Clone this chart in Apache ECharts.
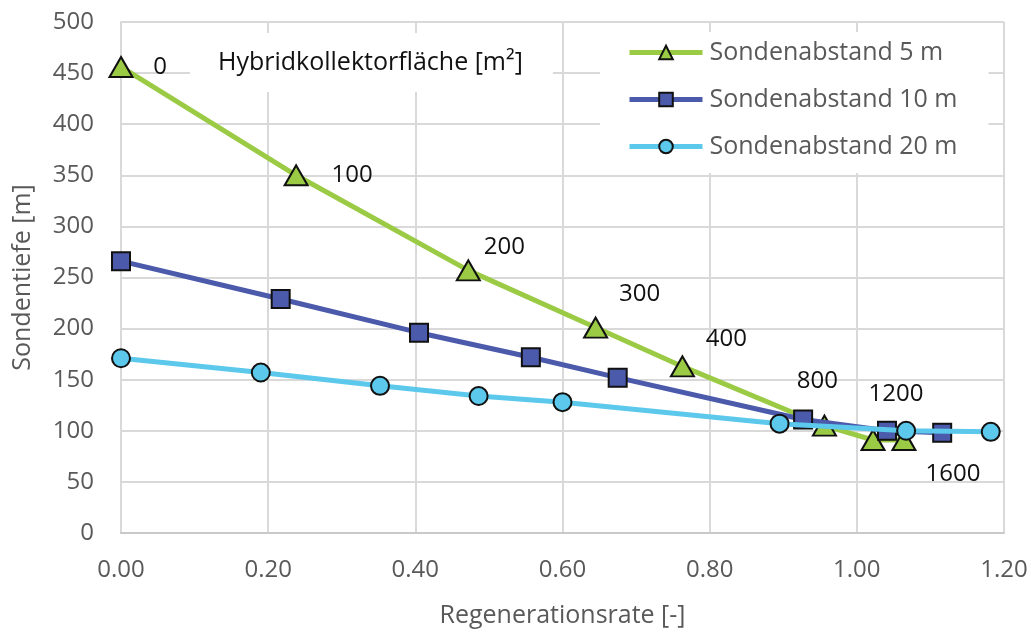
<!DOCTYPE html>
<html>
<head>
<meta charset="utf-8">
<script src="https://cdn.jsdelivr.net/npm/echarts@6/dist/echarts.min.js"></script>
<style>
  html, body { margin: 0; padding: 0; background: #fff; }
  #chart { width: 1031px; height: 633px; }
</style>
</head>
<body>
<div id="chart"></div>
<script>
// Regenerationsrate [-] (x) und Sondentiefe [m] (y) je Sondenabstand
var x5m = [0.000, 0.238, 0.472, 0.645, 0.763, 0.956, 1.022, 1.064];
var y5m = [456, 350, 257, 201, 163, 105, 91, 91];
var x10m = [0.000, 0.217, 0.405, 0.557, 0.675, 0.927, 1.041, 1.116];
var y10m = [266, 229, 196, 172, 152, 111, 100, 98];
var x20m = [0.000, 0.190, 0.352, 0.486, 0.600, 0.895, 1.067, 1.182];
var y20m = [171, 157, 144, 134, 128, 107, 100, 99];
// Hybridkollektorfläche [m2] an den Punkten der 5 m Reihe
var flaechen = ['0', '100', '200', '300', '400', '800', '1200', '1600'];
var seriesNames = ['Sondenabstand 5 m', 'Sondenabstand 10 m', 'Sondenabstand 20 m'];
var xTicks = { min: 0, max: 1.2, step: 0.2 };
var yTicks = { min: 0, max: 500, step: 50 };

// Lage der Flächenbeschriftung relativ zum Marker
var labelOffsets = [[39, 0], [56, 0], [36, -23], [44, -33], [44, -27], [-7, -45], [23, -46], [49, 34]];

var font = 'Open Sans';
var grey = '#595959';

function pairs(xs, ys) {
  return xs.map(function (x, i) { return [x, ys[i]]; });
}

var d5 = pairs(x5m, y5m).map(function (p, i) {
  return { value: p, label: { offset: labelOffsets[i] } };
});

var chart = echarts.init(document.getElementById('chart'));
chart.setOption({
  animation: false,
  backgroundColor: '#fff',
  title: {
    text: 'Hybridkollektorfläche [m²]',
    left: 190,
    top: 33,
    padding: [17, 30, 17, 28],
    backgroundColor: '#fff',
    textStyle: { fontFamily: font, fontSize: 25, fontWeight: 'normal', color: '#111' }
  },
  legend: {
    data: seriesNames,
    left: 600,
    top: 32,
    orient: 'vertical',
    backgroundColor: '#fff',
    padding: [8, 31, 14, 27],
    itemWidth: 73,
    itemHeight: 17,
    itemGap: 22,
    lineStyle: { width: 5 },
    textStyle: { fontFamily: font, fontSize: 25, color: grey, padding: [0, 0, 0, 2] }
  },
  grid: { left: 121, right: 27, top: 22, bottom: 98 },
  xAxis: {
    type: 'value',
    min: xTicks.min, max: xTicks.max, interval: xTicks.step,
    name: 'Regenerationsrate [-]',
    nameLocation: 'middle',
    nameGap: 70,
    nameTextStyle: { fontFamily: font, fontSize: 25, color: grey },
    axisLine: { show: true, lineStyle: { color: '#c9c9c9', width: 2 } },
    axisTick: { show: false },
    axisLabel: {
      fontFamily: font, fontSize: 24, color: grey, margin: 25,
      formatter: function (v) { return v.toFixed(2); }
    },
    splitLine: { show: true, lineStyle: { color: '#d9d9d9', width: 2 } }
  },
  yAxis: {
    type: 'value',
    min: yTicks.min, max: yTicks.max, interval: yTicks.step,
    name: 'Sondentiefe [m]',
    nameLocation: 'middle',
    nameGap: 86,
    nameTextStyle: { fontFamily: font, fontSize: 25, color: grey },
    axisLine: { show: true, lineStyle: { color: '#d9d9d9', width: 2 } },
    axisTick: { show: false },
    axisLabel: { fontFamily: font, fontSize: 24, color: grey, margin: 27 },
    splitLine: { show: true, lineStyle: { color: '#d9d9d9', width: 2 } }
  },
  series: [
    {
      name: seriesNames[0],
      type: 'line',
      data: d5,
      symbol: 'triangle',
      symbolSize: [23, 20],
      lineStyle: { color: '#9bcb45', width: 5 },
      itemStyle: { color: '#9bcb45', borderColor: '#111', borderWidth: 2 },
      label: {
        show: true,
        position: 'inside',
        fontFamily: font, fontSize: 24, color: '#111',
        formatter: function (p) { return flaechen[p.dataIndex]; }
      },
      z: 3
    },
    {
      name: seriesNames[1],
      type: 'line',
      data: pairs(x10m, y10m),
      symbol: 'rect',
      symbolSize: 18,
      lineStyle: { color: '#4b5aab', width: 5 },
      itemStyle: { color: '#4b5aab', borderColor: '#111', borderWidth: 2 },
      z: 4
    },
    {
      name: seriesNames[2],
      type: 'line',
      data: pairs(x20m, y20m),
      symbol: 'circle',
      symbolSize: 18,
      lineStyle: { color: '#5bc8ec', width: 5 },
      itemStyle: { color: '#5bc8ec', borderColor: '#111', borderWidth: 2 },
      z: 5
    }
  ]
});
</script>
</body>
</html>
